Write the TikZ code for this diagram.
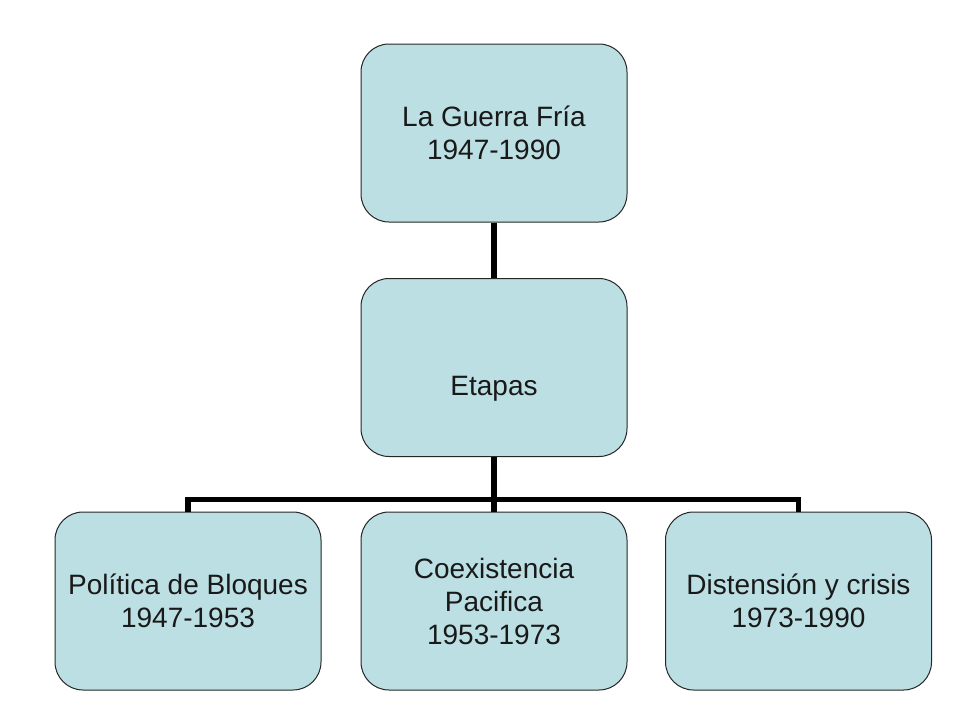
\documentclass[tikz,border=0pt]{standalone}
\usepackage{fontspec}
\setmainfont{Liberation Sans}
\definecolor{boxfill}{HTML}{BBDFE3}
\begin{document}
\begin{tikzpicture}[x=1pt,y=-1pt,
  box/.style={draw=black!85, line width=1pt, fill=boxfill, rounded corners=28pt,
    minimum width=266pt, minimum height=178pt, inner sep=0pt, align=center,
    font=\fontsize{28}{33}\selectfont, text height=20pt, text depth=0pt, text=black!90},
  twolines/.style={text height=53pt},
  threelines/.style={text height=86pt},
  link/.style={line width=5.5pt, draw=black}]
\useasboundingbox (0,0) rectangle (960,720);
\node[box, twolines] (top) at (494,133) {La Guerra Fría\\1947-1990};
\node[box, text height=55pt] (mid) at (494,367.5) {Etapas};
\node[box, twolines] (b1) at (188,601) {Política de Bloques\\1947-1953};
\node[box, threelines] (b2) at (494,601) {Coexistencia\\Pacifica\\1953-1973};
\node[box, twolines] (b3) at (798.5,601) {Distensión y crisis\\1973-1990};
\draw[link] (top.south) -- (mid.north);
\draw[link] (mid.south) -- (b2.north);
\draw[link] (b1.north) -- ++(0,-12) -| (b3.north);
\end{tikzpicture}
\end{document}
